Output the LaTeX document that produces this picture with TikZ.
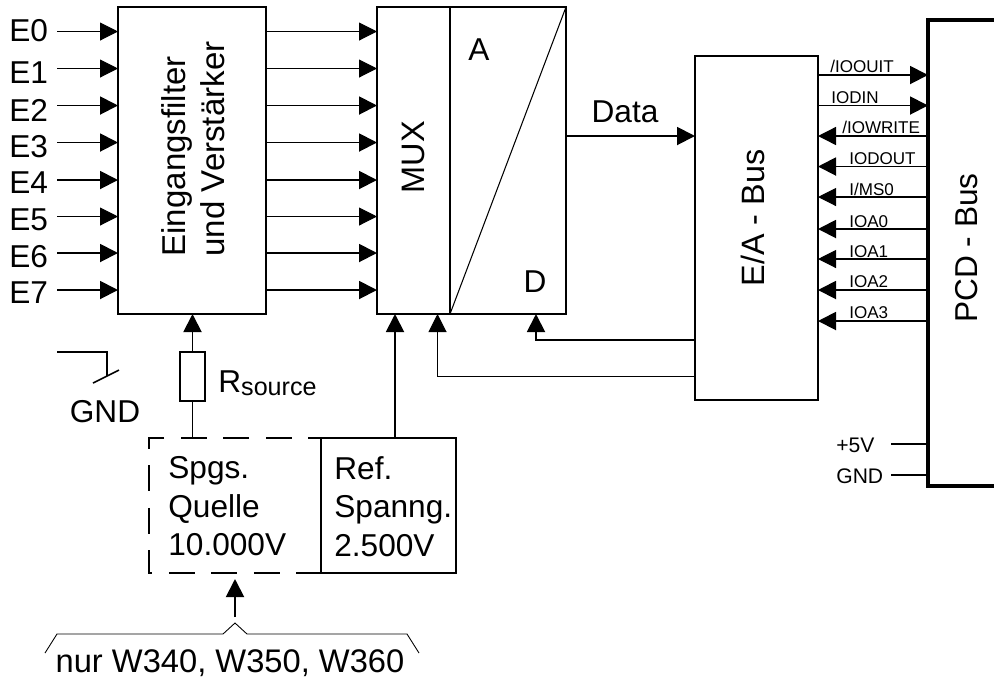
\documentclass[tikz,border=0pt]{standalone}
\usepackage{fontspec}
\setmainfont{Liberation Sans}
\usetikzlibrary{arrows.meta, positioning, calc}
\def\px{0.02cm}
\newcommand{\bigfont}{\fontsize{18}{22}\selectfont}
\newcommand{\midfont}{\fontsize{12}{14}\selectfont}
\newcommand{\smallfont}{\fontsize{9.7}{11}\selectfont}

\begin{document}
\begin{tikzpicture}[
  x=0.02cm, y=-0.02cm,
  >={Triangle[length=3.6mm, width=3.6mm]},
  blockbox/.style={
    draw, line width=1pt, anchor=north west, inner sep=0pt, outer sep=0pt
  },
  label/.style={font=\bigfont, inner sep=0pt, align=left},
  turned/.style={font=\bigfont, inner sep=0pt, align=left, rotate=90},
  signame/.style={font=\smallfont, inner sep=0pt, anchor=base west},
  thinarr/.style={->, line width=0.6pt},
  thickarr/.style={->, line width=1.1pt},
]

% Frame of the page
\clip (0,0) rectangle (994,681);

% Blocks
\node[blockbox, minimum width=148*\px, minimum height=307*\px] (filter) at (118,7) {};
\node[blockbox, minimum width=73*\px, minimum height=307*\px] (mux) at (377,7) {};
\node[blockbox, minimum width=116*\px, minimum height=307*\px] (adc) at (450,7) {};
\node[blockbox, minimum width=123*\px, minimum height=344*\px] (eabus) at (695,56) {};
\node[blockbox, line width=2.2pt, minimum width=120*\px, minimum height=466*\px] (pcd) at (928,20) {};
\node[blockbox, minimum width=25*\px, minimum height=49*\px] (res) at (180,352) {};
\node[blockbox, minimum width=135*\px, minimum height=135*\px] (ref) at (321,438) {};
\node[anchor=north west, inner sep=0pt, outer sep=0pt, minimum width=172*\px, minimum height=135*\px] (quelle) at (149,438) {};

% Dashed source box
\draw[line width=1pt, dash pattern=on 5.2mm off 3.3mm, dash phase=2.6mm]
  (ref.north west) -- (quelle.north west) -- (quelle.south west) -- (ref.south west);

% Diagonal of the converter
\draw[line width=0.6pt] (adc.south west) -- (adc.north east);

% Texts in the blocks
\node[turned, font=\fontsize{18.8}{22}\selectfont] (filtertext) at (193,149) {Eingangsfilter\\und Verstärker};
\node[turned, font=\fontsize{18.5}{22}\selectfont] (muxtext) at (413,157) {MUX};
\node[turned, font=\fontsize{18.4}{22}\selectfont] (eatext) at (753,218) {E/A - Bus};
\node[turned] (pcdtext) at (967,248) {PCD - Bus};
\node[label] (atext) at (479,50) {A};
\node[label] (dtext) at (535,282) {D};
\node[label, anchor=north west] (quelletext) at (168,456) {Spgs.\\Quelle\\10.000V};
\node[label, anchor=north west] (reftext) at (334,456) {Ref.\\Spanng.\\2.500V};

% Inputs and channels
\foreach \n/\y/\ty/\lw in {0/31.5/31/0.6pt, 1/68.5/73/0.6pt, 2/105.5/110/1.1pt, 3/142.5/147/1.1pt,
                           4/180/183/1.1pt, 5/216.5/220/0.6pt, 6/253/257/1.1pt, 7/290/293/1.1pt} {
  \node[label, anchor=west] (e\n) at (9,\ty) {E\n};
  \coordinate (in\n) at (57,\y);
  \draw[->, line width=\lw] (in\n) -- (in\n -| filter.west);
  \draw[->, line width=\lw] (in\n -| filter.east) -- (in\n -| mux.west);
}

% Data and control lines
\coordinate (datastart) at (566,136);
\coordinate (ctrlD) at (536,340);
\coordinate (ctrlM) at (437.5,376.5);
\node[label] (datatext) at (625,112) {Data};
\draw[thickarr] (datastart) -- (datastart -| eabus.west);
\draw[thickarr] (ctrlD -| eabus.west) -- (ctrlD) -- (ctrlD |- adc.south);
\draw[thinarr] (ctrlM -| eabus.west) -- (ctrlM) -- (ctrlM |- mux.south);

% Source connections
\draw[thickarr] (res.north) -- (res.north |- filter.south);
\draw[line width=1.1pt] (res.south) -- (res.south |- quelle.north);
\coordinate (refout) at (395,438);
\draw[thickarr] (refout) -- (refout |- mux.south);
\node[label, anchor=base west] (rsource) at (218,392) {R\raisebox{-2pt}{\fontsize{14.3}{16}\selectfont source}};

% Switch to ground
\coordinate (swstart) at (57,352);
\coordinate (swcorner) at (107,352);
\coordinate (swend) at (107,376);
\coordinate (swa) at (93,383);
\coordinate (swb) at (119,370);
\draw[line width=0.9pt] (swstart) -- (swcorner) -- (swend);
\draw[line width=0.9pt] (swa) -- (swb);
\node[label] (gndleft) at (105,412) {GND};

% Note below the source
\coordinate (notetail) at (235,617);
\coordinate (notetip) at (235,579);
\draw[thickarr] (notetail) -- (notetip);
\coordinate (b1) at (45,653);
\coordinate (b2) at (57,634);
\coordinate (b3) at (223,634);
\coordinate (b4) at (235,623);
\coordinate (b5) at (247,634);
\coordinate (b6) at (407,634);
\coordinate (b7) at (419,653);
\draw[line width=0.5pt] (b1) -- (b2) -- (b3) -- (b4) -- (b5) -- (b6) -- (b7);
\node[label, font=\fontsize{18.6}{22}\selectfont] (notetext) at (230,663) {nur W340, W350, W360};

% Bus signals
\foreach \n/\y/\lw in {a/75/1.1pt, b/105.5/1.1pt} {
  \coordinate (sig\n) at (818,\y);
  \draw[->, line width=\lw] (sig\n) -- (sig\n -| pcd.west);
}
\foreach \n/\y/\lw in {c/136/0.8pt, d/166.5/1.1pt, e/197/0.6pt, f/229/1.1pt,
                       g/259/0.6pt, h/290/1.1pt, i/321/1.1pt} {
  \coordinate (sig\n) at (928,\y);
  \draw[->, line width=\lw] (sig\n) -- (sig\n -| eabus.east);
}
\node[signame] (tioouit) at (830,72) {/IOOUIT};
\node[signame] (tiodin) at (831,103) {IODIN};
\node[signame] (tiowrite) at (842,133) {/IOWRITE};
\node[signame] (tiodout) at (849,164) {IODOUT};
\node[signame] (tims) at (849,195) {I/MS0};
\node[signame] (tioa0) at (849,227) {IOA0};
\node[signame] (tioa1) at (849,257) {IOA1};
\node[signame] (tioa2) at (849,287) {IOA2};
\node[signame] (tioa3) at (849,318) {IOA3};

% Supply
\coordinate (vcc) at (891,444);
\coordinate (gnd) at (891,475);
\node[font=\midfont, inner sep=0pt, anchor=west] (tvcc) at (836,445) {+5V};
\node[font=\midfont, inner sep=0pt, anchor=west] (tgnd) at (836,476) {GND};
\draw[line width=0.6pt] (vcc) -- (vcc -| pcd.west);
\draw[line width=1.1pt] (gnd) -- (gnd -| pcd.west);

\end{tikzpicture}
\end{document}
